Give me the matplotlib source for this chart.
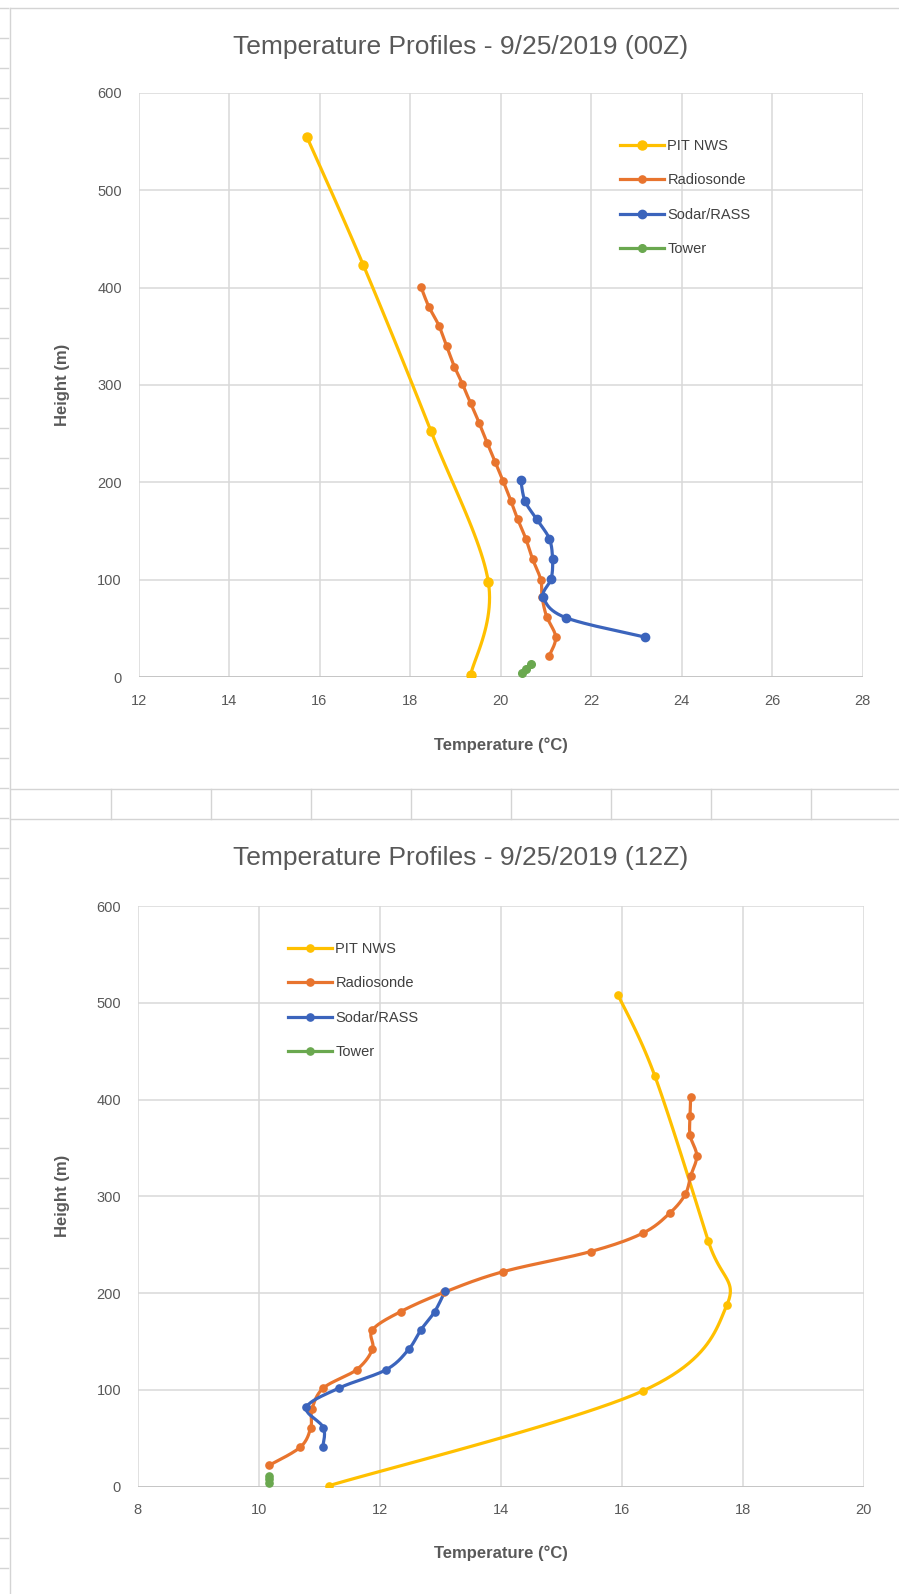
import numpy as np
import matplotlib
matplotlib.use("Agg")
import matplotlib.pyplot as plt
from matplotlib.lines import Line2D

plt.rcParams['font.family'] = ['Liberation Sans', 'DejaVu Sans']

# ---- data: 00Z ----
nws00_temp = [19.34, 19.73, 18.46, 16.97, 15.72]
nws00_hgt = [2, 98, 253, 423, 555]
radio00_hgt = [22, 41, 62, 82, 100, 121, 142, 162, 181, 201,
               221, 240, 261, 281, 301, 319, 340, 361, 380, 401]
radio00_temp = [21.08, 21.22, 21.02, 20.92, 20.89, 20.71, 20.56, 20.38, 20.23, 20.06,
                19.88, 19.71, 19.53, 19.34, 19.16, 18.98, 18.81, 18.64, 18.42, 18.24]
sodar00_hgt = [41, 61, 82, 101, 121, 142, 162, 181, 202]
sodar00_temp = [23.19, 21.44, 20.95, 21.12, 21.15, 21.08, 20.80, 20.54, 20.45]
tower00_hgt = [4, 8, 13]
tower00_temp = [20.47, 20.56, 20.67]

# ---- data: 12Z ----
nws12_temp = [11.16, 16.35, 17.74, 17.43, 16.55, 15.94]
nws12_hgt = [1, 99, 188, 254, 424, 508]
radio12_hgt = [22, 41, 61, 80, 102, 121, 142, 162, 181, 201,
               222, 243, 262, 283, 302, 321, 342, 363, 383, 403]
radio12_temp = [10.17, 10.69, 10.86, 10.88, 11.07, 11.62, 11.88, 11.88, 12.35, 13.07,
                14.03, 15.49, 16.35, 16.80, 17.05, 17.14, 17.24, 17.13, 17.13, 17.14]
sodar12_hgt = [41, 61, 82, 102, 121, 142, 162, 181, 202]
sodar12_temp = [11.06, 11.07, 10.79, 11.33, 12.11, 12.48, 12.68, 12.91, 13.08]
tower12_hgt = [4, 8, 11]
tower12_temp = [10.17, 10.17, 10.17]

series_names = ["PIT NWS", "Radiosonde", "Sodar/RASS", "Tower"]
colors = ["#FFC000", "#E8742E", "#3B64BC", "#6AA84F"]

W, H = 899, 1594
fig = plt.figure(figsize=(W / 100, H / 100), dpi=100)
GRAY = "#595959"
LINE = "#d4d4d4"


def fx(x):
    return x / W


def fy(y):
    return 1 - y / H


def sheet_line(x0, y0, x1, y1):
    fig.add_artist(Line2D([fx(x0), fx(x1)], [fy(y0), fy(y1)],
                          color=LINE, lw=1.0, transform=fig.transFigure))


# spreadsheet bits around the charts
sheet_line(10, 8, W, 8)
sheet_line(10, 8, 10, H)
sheet_line(10, 789, W, 789)
sheet_line(10, 819, W, 819)
for k in range(8):
    sheet_line(110.7 + 100 * k, 789, 110.7 + 100 * k, 819)
for k in range(53):
    sheet_line(0, 8 + 30 * k, 8, 8 + 30 * k)


def smooth(ax, xs, ys, n=24):
    # Excel-like bezier smoothing, done in pixel space
    bb = ax.get_position()
    x0, x1 = ax.get_xlim()
    y0, y1 = ax.get_ylim()
    sx = bb.width * W / (x1 - x0)
    sy = bb.height * H / (y1 - y0)
    P = np.column_stack([np.asarray(xs) * sx, np.asarray(ys) * sy])
    out = [P[0]]
    t = np.linspace(0, 1, n)[1:, None]
    for i in range(len(P) - 1):
        p0 = P[i - 1] if i > 0 else P[i]
        p1, p2 = P[i], P[i + 1]
        p3 = P[i + 2] if i + 2 < len(P) else P[i + 1]
        c1 = p1 + (p2 - p0) / 6
        c2 = p2 - (p3 - p1) / 6
        seg = ((1 - t) ** 3) * p1 + 3 * ((1 - t) ** 2) * t * c1 \
            + 3 * (1 - t) * t ** 2 * c2 + t ** 3 * p2
        out.extend(seg)
    out = np.array(out)
    return out[:, 0] / sx, out[:, 1] / sy


def make_chart(box, xlim, xticks, title, title_y, data, msizes, leg_xy, xlabel_y):
    l, t, r, b = box
    ax = fig.add_axes([fx(l), fy(b), (r - l) / W, (b - t) / H])
    ax.set_xlim(*xlim)
    ax.set_ylim(0, 600)
    ax.set_xticks(xticks)
    ax.set_yticks(range(0, 601, 100))
    ax.grid(True, color="#d9d9d9", lw=1.1)
    ax.set_axisbelow(True)
    for s in ax.spines.values():
        s.set_visible(False)
    ax.axhline(0, color="#bfbfbf", lw=1.1, zorder=1)
    ax.tick_params(length=0, labelsize=10.5, labelcolor=GRAY)
    ax.tick_params(axis="y", pad=12)
    ax.tick_params(axis="x", pad=12)

    handles = []
    for (xs, ys), name, c, ms in zip(data, series_names, colors, msizes):
        sx, sy = smooth(ax, xs, ys)
        ax.plot(sx, sy, color=c, lw=2.3, solid_capstyle="round", zorder=3)
        ax.plot(xs, ys, "o", color=c, ms=ms, mec=c, zorder=4)
        handles.append(Line2D([], [], color=c, lw=2.3, marker="o", ms=ms))

    fig.legend(handles, series_names, loc="upper left",
               bbox_to_anchor=(fx(leg_xy[0]), fy(leg_xy[1])),
               frameon=False, fontsize=10.5, handlelength=3.0,
               handletextpad=0.25, labelspacing=1.4, borderpad=0,
               borderaxespad=0, labelcolor="#404040")

    fig.text(fx(461), fy(title_y), title, fontsize=19, color=GRAY,
             ha="center", va="center")
    fig.text(fx((l + r) / 2), fy(xlabel_y), "Temperature (°C)", fontsize=12,
             fontweight="bold", color=GRAY, ha="center", va="center")
    fig.text(fx(63), fy((t + b) / 2), "Height (m)", fontsize=12,
             fontweight="bold", color=GRAY, ha="center", va="center",
             rotation=90)
    return ax


make_chart((138.5, 93, 862.5, 677), (12, 28), range(12, 29, 2),
           "Temperature Profiles - 9/25/2019 (00Z)", 46.7,
           [(nws00_temp, nws00_hgt), (radio00_temp, radio00_hgt),
            (sodar00_temp, sodar00_hgt), (tower00_temp, tower00_hgt)],
           [6.5, 5.2, 6.0, 5.5], (620, 139), 745)

make_chart((137.7, 906, 863.7, 1486.7), (8, 20), range(8, 21, 2),
           "Temperature Profiles - 9/25/2019 (12Z)", 858,
           [(nws12_temp, nws12_hgt), (radio12_temp, radio12_hgt),
            (sodar12_temp, sodar12_hgt), (tower12_temp, tower12_hgt)],
           [5.2, 5.2, 5.2, 5.2], (288, 942), 1553)

fig.savefig("out.png", dpi=100)
